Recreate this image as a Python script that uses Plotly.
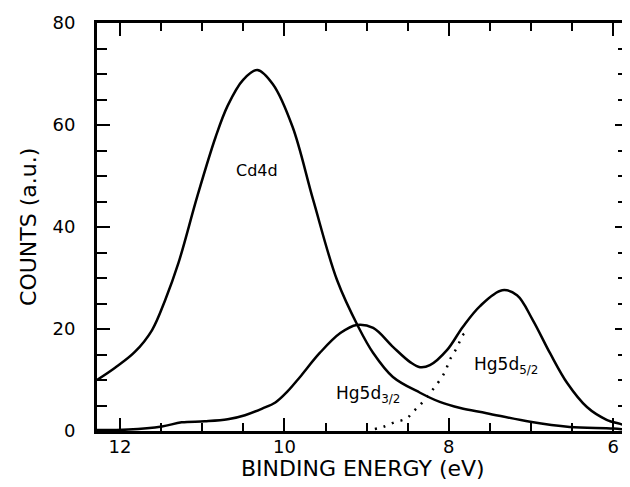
import plotly.graph_objects as go

# Cd4d spectrum (binding energy eV, counts a.u.)
cd_energy = [12.28, 12.06, 11.82, 11.61, 11.45, 11.29, 11.06, 10.84, 10.69, 10.50,
             10.33, 10.14, 9.90, 9.65, 9.36, 9.10, 8.92, 8.68, 8.35, 8.11, 7.86,
             7.54, 7.01, 6.53, 6.00, 5.82]
cd_counts = [10.0, 12.4, 15.5, 19.8, 25.7, 32.9, 46.0, 57.5, 63.8, 68.9,
             70.8, 68.0, 59.6, 45.3, 29.6, 20.4, 15.3, 10.6, 7.5, 5.7, 4.5,
             3.5, 1.8, 0.8, 0.5, 0.2]

# Hg5d spectrum
hg_energy = [12.28, 11.90, 11.49, 11.25, 10.97, 10.69, 10.48, 10.27, 10.11, 9.96,
             9.81, 9.57, 9.32, 9.12, 8.92, 8.68, 8.47, 8.35, 8.23, 8.02, 7.83,
             7.62, 7.35, 7.17, 6.98, 6.77, 6.56, 6.32, 6.08, 5.88, 5.82]
hg_counts = [0.2, 0.3, 0.9, 1.7, 1.9, 2.3, 3.1, 4.4, 5.6, 7.8,
             10.6, 15.3, 19.2, 20.8, 20.2, 16.5, 13.5, 12.5, 12.9, 15.9, 20.4,
             24.5, 27.6, 26.6, 21.8, 15.3, 9.4, 4.7, 2.2, 1.2, 0.7]

# Dotted onset of Hg5d5/2
dot_energy = [8.90, 8.80, 8.68, 8.51, 8.44, 8.35, 8.20, 8.05, 7.99, 7.90, 7.83, 7.80]
dot_counts = [0.4, 0.8, 1.6, 2.5, 3.7, 5.1, 8.0, 11.5, 13.9, 16.4, 18.8, 19.2]

x_ticks = [12, 10, 8, 6]
y_ticks = [0, 20, 40, 60, 80]

FONT = "DejaVu Sans"

fig = go.Figure()
fig.add_trace(go.Scatter(x=cd_energy, y=cd_counts, mode="lines",
                         line=dict(color="black", width=2.5, shape="spline", smoothing=1.0)))
fig.add_trace(go.Scatter(x=hg_energy, y=hg_counts, mode="lines",
                         line=dict(color="black", width=2.5, shape="spline", smoothing=1.0)))
fig.add_trace(go.Scatter(x=dot_energy, y=dot_counts, mode="lines",
                         line=dict(color="black", width=2.5, dash="2px,7px", shape="spline")))

fig.add_annotation(x=10.33, y=51, text="Cd4d", showarrow=False,
                   font=dict(family=FONT, size=16, color="black"))
fig.add_annotation(x=8.98, y=7.1, text="Hg5d<sub>3/2</sub>", showarrow=False,
                   font=dict(family=FONT, size=17, color="black"))
fig.add_annotation(x=7.30, y=12.9, text="Hg5d<sub>5/2</sub>", showarrow=False,
                   font=dict(family=FONT, size=17, color="black"))

# axis titles
fig.add_annotation(xref="paper", yref="paper", x=0.5, y=-0.0907, yanchor="middle",
                   text="BINDING ENERGY (eV)", showarrow=False,
                   font=dict(family=FONT, size=22, color="black"))
fig.add_annotation(xref="paper", yref="paper", x=-0.13, y=0.5, xanchor="center",
                   yanchor="middle", textangle=-90,
                   text="COUNTS (a.u.)", showarrow=False,
                   font=dict(family=FONT, size=22, color="black"))

axis_common = dict(showline=True, linewidth=3, linecolor="black", mirror="ticks",
                   ticks="inside", tickwidth=2, tickcolor="black", ticklen=13,
                   showgrid=False, zeroline=False, automargin=False,
                   tickfont=dict(family=FONT, size=18, color="black"))

fig.update_xaxes(range=[12.28, 5.82], tickvals=x_ticks, ticktext=[str(v) for v in x_ticks],
                 minor=dict(dtick=0.5, tick0=6, ticks="inside", ticklen=8, tickwidth=2, tickcolor="black"),
                 ticklabelstandoff=-3,
                 **axis_common)
fig.update_yaxes(range=[0, 80], tickvals=y_ticks, ticktext=[str(v) for v in y_ticks],
                 minor=dict(dtick=5, tick0=0, ticks="inside", ticklen=10, tickwidth=2, tickcolor="black"),
                 ticklabelstandoff=15,
                 **axis_common)

# page body has an 8px margin, so the figure is sized/offset to compensate
fig.update_layout(width=622, height=479, showlegend=False,
                  margin=dict(l=89, r=2, t=15, b=56),
                  paper_bgcolor="white", plot_bgcolor="white")

fig.write_html("out.html")
